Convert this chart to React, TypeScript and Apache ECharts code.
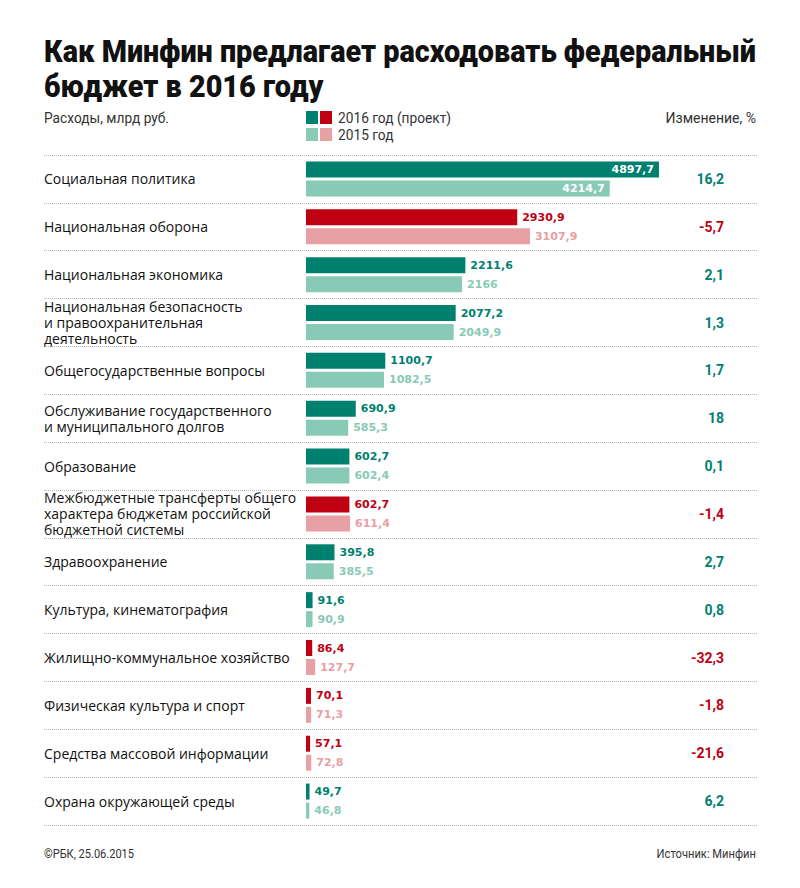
import React, { useEffect, useRef } from "react";
import * as echarts from "echarts";

const categories: string[] = [
  "Социальная политика",
  "Национальная оборона",
  "Национальная экономика",
  "Национальная безопасность\nи правоохранительная\nдеятельность",
  "Общегосударственные вопросы",
  "Обслуживание государственного\nи муниципального долгов",
  "Образование",
  "Межбюджетные трансферты общего\nхарактера бюджетам российской\nбюджетной системы",
  "Здравоохранение",
  "Культура, кинематография",
  "Жилищно-коммунальное хозяйство",
  "Физическая культура и спорт",
  "Средства массовой информации",
  "Охрана окружающей среды",
];
const v2016: number[] = [4897.7, 2930.9, 2211.6, 2077.2, 1100.7, 690.9, 602.7, 602.7, 395.8, 91.6, 86.4, 70.1, 57.1, 49.7];
const v2015: number[] = [4214.7, 3107.9, 2166, 2049.9, 1082.5, 585.3, 602.4, 611.4, 385.5, 90.9, 127.7, 71.3, 72.8, 46.8];
const change: number[] = [16.2, -5.7, 2.1, 1.3, 1.7, 18, 0.1, -1.4, 2.7, 0.8, -32.3, -1.8, -21.6, 6.2];

const TEAL = "#00806f";
const TEAL_L = "#88cab5";
const RED = "#be0012";
const RED_L = "#e7a0a3";
const fmt = (v: number) => String(v).replace(".", ",");
const ROBOTO = "Roboto, sans-serif";
const LABEL_FONT = "'DejaVu Sans', sans-serif";

export default function App() {
  const ref = useRef<HTMLDivElement>(null);
  useEffect(() => {
    document.body.style.margin = "0";
    const chart = echarts.init(ref.current!, null, { renderer: "svg" });
    const mkData = (vals: number[], dark: boolean) =>
      vals.map((v, i) => {
        const neg = change[i] < 0;
        const color = dark ? (neg ? RED : TEAL) : neg ? RED_L : TEAL_L;
        const inside = v > 4000;
        return {
          value: v,
          itemStyle: { color },
          label: {
            show: true,
            position: inside ? "insideRight" : "right",
            distance: 5,
            color: inside ? "#ffffff" : color,
            fontFamily: LABEL_FONT,
            fontWeight: "bold",
            fontSize: 11,
            formatter: () => fmt(v),
          },
        };
      });
    const smallText = (text: string, x: number, y: number, align: string, scaleX: number, size = 14) => ({
      type: "text",
      x,
      y,
      scaleX,
      style: {
        text,
        x: 0,
        y: 0,
        font: `${size}px ${ROBOTO}`,
        fill: "#333333",
        align,
        verticalAlign: "middle",
      },
    });
    chart.setOption({
      animation: false,
      backgroundColor: "#ffffff",
      grid: { left: 44, top: 155, width: 713, height: 670 },
      xAxis: {
        type: "value",
        min: -3635,
        max: 6258,
        show: false,
      },
      yAxis: [
        {
          type: "category",
          data: categories,
          inverse: true,
          position: "left",
          axisLine: { show: false, onZero: false },
          axisTick: { show: false },
          axisLabel: {
            interval: 0,
            align: "left",
            margin: 0,
            color: "#111111",
            fontSize: 14,
            lineHeight: 16,
            fontFamily: "'Open Sans', sans-serif",
          },
          splitLine: {
            show: true,
            interval: 0,
            lineStyle: { type: "dotted", color: "#b5b5b5", width: 1 },
          },
        },
        {
          type: "category",
          data: change.map(fmt),
          inverse: true,
          position: "right",
          axisLine: { show: false, onZero: false },
          axisTick: { show: false },
          axisLabel: {
            interval: 0,
            align: "right",
            margin: -33,
            formatter: (val: string, idx: number) =>
              change[idx] < 0 ? `{n|${val}}` : `{p|${val}}`,
            rich: {
              p: { color: TEAL, fontSize: 14, fontWeight: "bold", fontFamily: ROBOTO },
              n: { color: RED, fontSize: 14, fontWeight: "bold", fontFamily: ROBOTO },
            },
          },
          splitLine: { show: false },
        },
      ],
      series: [
        {
          name: "2016 год (проект)",
          type: "bar",
          yAxisIndex: 0,
          barWidth: 16,
          barGap: "18.75%",
          data: mkData(v2016, true),
        },
        {
          name: "2015 год",
          type: "bar",
          yAxisIndex: 0,
          barWidth: 16,
          barGap: "18.75%",
          data: mkData(v2015, false),
        },
      ],
      graphic: [
        {
          type: "text",
          x: 44,
          y: 34,
          scaleX: 0.93,
          style: {
            text: "Как Минфин предлагает расходовать федеральный\nбюджет в 2016 году",
            x: 0,
            y: 0,
            font: `900 31px ${ROBOTO}`,
            lineHeight: 35,
            fill: "#111111",
            verticalAlign: "top",
          },
        },
        smallText("Расходы, млрд руб.", 44, 118, "left", 0.98),
        smallText("Изменение, %", 756, 118, "right", 1.0),
        { type: "rect", shape: { x: 306, y: 111, width: 12, height: 13 }, style: { fill: TEAL } },
        { type: "rect", shape: { x: 320, y: 111, width: 12, height: 13 }, style: { fill: RED } },
        { type: "rect", shape: { x: 306, y: 128, width: 12, height: 13 }, style: { fill: TEAL_L } },
        { type: "rect", shape: { x: 320, y: 128, width: 12, height: 13 }, style: { fill: RED_L } },
        smallText("2016 год (проект)", 338, 118, "left", 0.98),
        smallText("2015 год", 338, 135, "left", 0.98),
        smallText("©РБК, 25.06.2015", 44, 854, "left", 0.85, 13),
        smallText("Источник: Минфин", 756, 854, "right", 0.86, 13),
      ],
    });
    return () => chart.dispose();
  }, []);
  return <div ref={ref} style={{ width: 800, height: 888 }} />;
}
